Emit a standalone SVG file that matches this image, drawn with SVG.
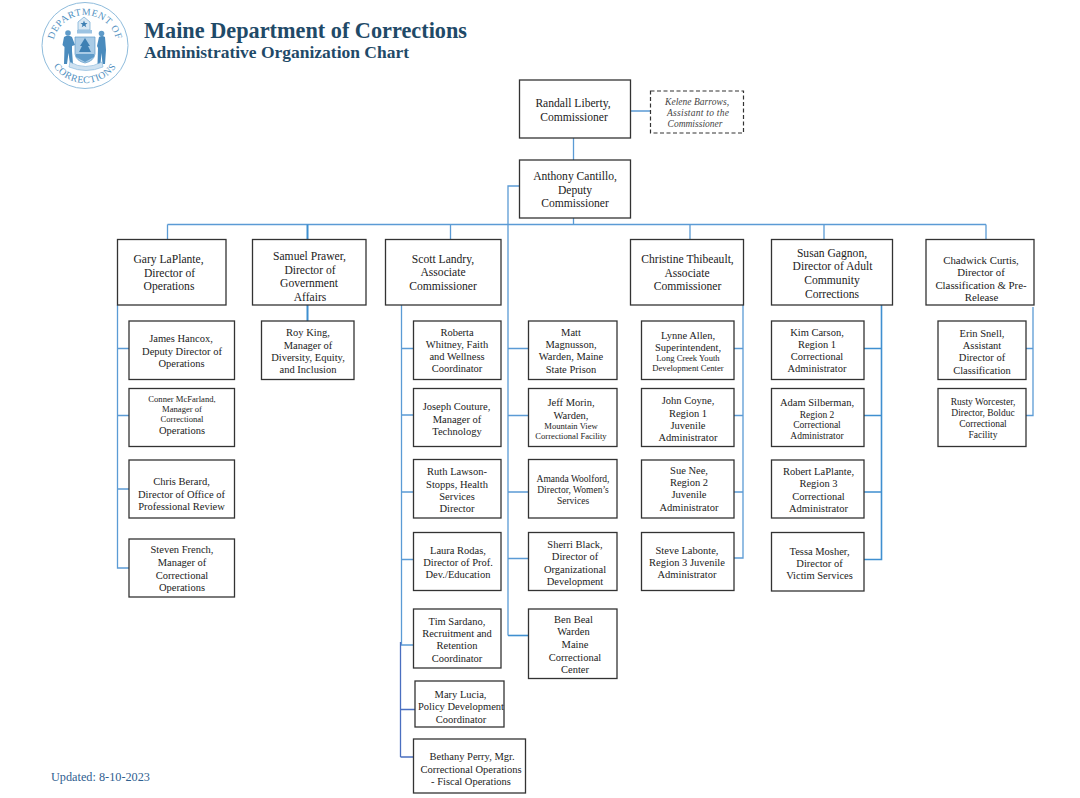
<svg xmlns="http://www.w3.org/2000/svg" width="1080" height="798" viewBox="0 0 1080 798">
<style>
text{font-family:"Liberation Serif","Times New Roman",serif;fill:#222;text-anchor:middle;font-size:10.5px}
.b{fill:#fff;stroke:#333;stroke-width:1.3}
.d{fill:#fff;stroke:#333;stroke-width:1.2;stroke-dasharray:4 2.5}
.l{font-size:11.6px}
.s{font-size:8.6px}
.r{font-size:9.5px}
.i{font-style:italic;font-size:9.5px;fill:#444}
.c path{fill:none;stroke:#5b9bd5;stroke-width:1.3}
.c .k{stroke:#3f8fd0;stroke-width:2}
.c .v{stroke:#4a6fc0}
.h{fill:#1f4a68;font-weight:bold;text-anchor:start}
.seal{fill:none;stroke:#8fbcdc}
.st{fill:#4f8fc0;font-size:9.8px;letter-spacing:.5px}
</style>
<defs>
<path id="sa" d="M54 55A32 32 0 1 1 116 55"/>
<path id="sb" d="M47 45A38 38 0 1 0 123 45"/>
</defs>
<g id="seal">
<circle class="seal" cx="85" cy="45.500" r="43" stroke-width="1"/>
<text class="st"><textPath href="#sa" startOffset="50%">DEPARTMENT OF</textPath></text>
<text class="st"><textPath href="#sb" startOffset="50%">CORRECTIONS</textPath></text>
<path d="M84 17l6 5v8h-12v-8z" fill="#dbe9f4" stroke="#7fb1d8" stroke-width=".8"/>
<path d="M84 20.500l1 2.500h2.500l-2 1.700.8 2.600-2.300-1.600-2.300 1.600.8-2.600-2-1.700h2.500z" fill="#3f80b3"/>
<path d="M77 30h15v3.500h-15z" fill="#9cc3e2"/>
<path d="M75 37h20v17q-1 7-10 9q-9-2-10-9z" fill="#a9cbe6" stroke="#5f9bc9" stroke-width=".7"/>
<path d="M85 38l5 8h-2l3 6h-12l3-6h-2z" fill="#3f80b3"/>
<path d="M76 54h18v3l-9 5-9-5z" fill="#5f9bc9"/>
<path d="M64 37q4-3 8 0l3 8-3 1v5l1 13h-3l-1.500-11-1.500 11h-3l.5-17-2-2z" fill="#4a8bbd"/>
<circle cx="68" cy="33" r="2.800" fill="#5f9bc9"/>
<path d="M99 37q3-2 6 0l1 13-1 14h-2.500l-1-11-1 11h-3l.500-16-1-2z" fill="#4a8bbd"/>
<circle cx="101.500" cy="33.500" r="2.800" fill="#5f9bc9"/>
<path d="M70 62q15 9 32 0l1 5q-17 7-34 0z" fill="#cfe2f1" stroke="#7fb1d8" stroke-width=".6"/>
</g>
<g id="title">
<text class="h" x="144" y="37.500" style="font-size:23px" textLength="323" lengthAdjust="spacingAndGlyphs">Maine Department of Corrections</text>
<text class="h" x="144" y="58" style="font-size:17px" textLength="265" lengthAdjust="spacingAndGlyphs">Administrative Organization Chart</text>
<text x="51" y="780.500" style="font-size:12px;fill:#2f6090;text-anchor:start" textLength="99" lengthAdjust="spacingAndGlyphs">Updated: 8-10-2023</text>
</g>
<g id="connectors" class="c">
<path d="M573.500 138V160M630 111H650M573.500 218V224.500M167.500 224.500H986M167.500 224.500V240M450.500 224.500V240M690 224.500V240M824 224.500V240M986 224.500V241"/>
<path class="k" d="M307.500 224.500V240M307.500 305V321"/>
<path d="M520 186H508V635.500M508 348.500H528.500M508 415.500H528.500M508 492H528.500M508 558.500H528.500"/>
<path class="k" d="M508 635.500H528.500" style="stroke-width:1.6"/>
<path d="M117.500 305V568H129M117.500 348.500H129M117.500 415.500H129M117.500 489H129"/>
<path d="M401.500 305V645H413.500M401.500 348.500H413.500M401.500 415H413.500M401.500 492H413.500M401.500 559.500H413.500"/>
<path class="v" d="M400.500 642V757M400.500 709.500H415M400.500 757H413.500"/>
<path d="M743 305V558H734M743 348.500H734M743 415.500H734M743 492H734"/>
<path class="k" d="M881.500 305V559.500H864M881.500 348.500H864M881.500 415.500H864M881.500 492H864" style="stroke-width:1.6"/>
<path d="M1033 307V415.500H1026M1033 348.500H1026"/>
</g>
<g id="n1"><rect class="b" x="519.500" y="80" width="111" height="58"/><text class="l"><tspan x="573" y="107">Randall Liberty,</tspan><tspan x="574" y="121">Commissioner</tspan></text></g>
<g id="n2"><rect class="d" x="650.500" y="91" width="93" height="42"/><text class="i"><tspan x="697" y="105" textLength="64">Kelene Barrows,</tspan><tspan x="698" y="116" textLength="62">Assistant to the</tspan><tspan x="695" y="127">Commissioner</tspan></text></g>
<g id="n3"><rect class="b" x="519.500" y="160" width="111" height="58"/><text class="l"><tspan x="575" y="180">Anthony Cantillo,</tspan><tspan x="575" y="193.500">Deputy</tspan><tspan x="575" y="207">Commissioner</tspan></text></g>
<g id="n4"><rect class="b" x="117.500" y="239.500" width="108.500" height="65.500"/><text class="l"><tspan x="168.500" y="263">Gary LaPlante,</tspan><tspan x="169.500" y="277">Director of</tspan><tspan x="169" y="290">Operations</tspan></text></g>
<g id="n5"><rect class="b" x="252.500" y="239.500" width="113.500" height="65.500"/><text class="l"><tspan x="309.500" y="260">Samuel Prawer,</tspan><tspan x="310" y="273.500">Director of</tspan><tspan x="309" y="287">Government</tspan><tspan x="310" y="301">Affairs</tspan></text></g>
<g id="n6"><rect class="b" x="385.500" y="239.500" width="115.500" height="65.500"/><text class="l"><tspan x="443" y="263">Scott Landry,</tspan><tspan x="443" y="276">Associate</tspan><tspan x="443" y="290">Commissioner</tspan></text></g>
<g id="n7"><rect class="b" x="630.500" y="239.500" width="113" height="65.500"/><text class="l"><tspan x="687.500" y="263">Christine Thibeault,</tspan><tspan x="687" y="277">Associate</tspan><tspan x="687.500" y="290">Commissioner</tspan></text></g>
<g id="n8"><rect class="b" x="771.500" y="239.500" width="121" height="65.500"/><text class="l"><tspan x="832" y="257">Susan Gagnon,</tspan><tspan x="832.500" y="270">Director of Adult</tspan><tspan x="832" y="284">Community</tspan><tspan x="832" y="297.500">Corrections</tspan></text></g>
<g id="n9"><rect class="b" x="926" y="239.500" width="108" height="65.500"/><text style="font-size:10.800px"><tspan x="981" y="264">Chadwick Curtis,</tspan><tspan x="981" y="276">Director of</tspan><tspan x="981" y="288.500">Classification &amp; Pre-</tspan><tspan x="981.500" y="301">Release</tspan></text></g>
<g id="n10"><rect class="b" x="129" y="321" width="105.500" height="58.500"/><text><tspan x="181" y="342">James Hancox,</tspan><tspan x="182" y="354.500">Deputy Director of</tspan><tspan x="181.500" y="367">Operations</tspan></text></g>
<g id="n11"><rect class="b" x="129" y="388.500" width="105.500" height="58"/><text class="s"><tspan x="182" y="402">Conner McFarland,</tspan><tspan x="182" y="411.500">Manager of</tspan><tspan x="182" y="421.500">Correctional</tspan><tspan x="182" y="433.500" style="font-size:10.500px">Operations</tspan></text></g>
<g id="n12"><rect class="b" x="129" y="460" width="105.500" height="58"/><text><tspan x="181.500" y="485">Chris Berard,</tspan><tspan x="181.500" y="497.500">Director of Office of</tspan><tspan x="181.500" y="510">Professional Review</tspan></text></g>
<g id="n13"><rect class="b" x="129" y="539" width="105.500" height="58"/><text><tspan x="182" y="553">Steven French,</tspan><tspan x="182" y="566">Manager of</tspan><tspan x="182" y="578.500">Correctional</tspan><tspan x="182" y="591">Operations</tspan></text></g>
<g id="n14"><rect class="b" x="261.500" y="321" width="92.500" height="58.500"/><text><tspan x="308" y="336">Roy King,</tspan><tspan x="308" y="348.500">Manager of</tspan><tspan x="308" y="361">Diversity, Equity,</tspan><tspan x="308" y="373">and Inclusion</tspan></text></g>
<g id="n15"><rect class="b" x="413.500" y="321" width="87.500" height="58.500"/><text><tspan x="457" y="336">Roberta</tspan><tspan x="457" y="348">Whitney, Faith</tspan><tspan x="457" y="360">and Wellness</tspan><tspan x="457" y="372">Coordinator</tspan></text></g>
<g id="n16"><rect class="b" x="413.500" y="388.500" width="87.500" height="58"/><text><tspan x="456.500" y="410">Joseph Couture,</tspan><tspan x="457" y="422.500">Manager of</tspan><tspan x="457" y="435">Technology</tspan></text></g>
<g id="n17"><rect class="b" x="413.500" y="459.500" width="87.500" height="58.500"/><text><tspan x="457" y="475">Ruth Lawson-</tspan><tspan x="457" y="487.500">Stopps, Health</tspan><tspan x="457" y="500">Services</tspan><tspan x="457" y="512">Director</tspan></text></g>
<g id="n18"><rect class="b" x="413.500" y="532.500" width="87.500" height="58"/><text><tspan x="458" y="554">Laura Rodas,</tspan><tspan x="458" y="566">Director of Prof.</tspan><tspan x="458" y="578">Dev./Education</tspan></text></g>
<g id="n19"><rect class="b" x="413.500" y="609" width="87.500" height="59"/><text><tspan x="457" y="625">Tim Sardano,</tspan><tspan x="457" y="637">Recruitment and</tspan><tspan x="457" y="649">Retention</tspan><tspan x="457" y="661.500">Coordinator</tspan></text></g>
<g id="n20"><rect class="b" x="415" y="681" width="89" height="46"/><text><tspan x="460.500" y="697.500">Mary Lucia,</tspan><tspan x="461" y="710">Policy Development</tspan><tspan x="461" y="723">Coordinator</tspan></text></g>
<g id="n21"><rect class="b" x="413.500" y="739" width="112" height="54"/><text><tspan x="472" y="760">Bethany Perry, Mgr.</tspan><tspan x="471" y="772.500">Correctional Operations</tspan><tspan x="471" y="785">- Fiscal Operations</tspan></text></g>
<g id="n22"><rect class="b" x="528.500" y="321" width="88.500" height="58.500"/><text><tspan x="571" y="335.500">Matt</tspan><tspan x="571" y="348">Magnusson,</tspan><tspan x="571" y="360">Warden, Maine</tspan><tspan x="571" y="372.500">State Prison</tspan></text></g>
<g id="n23"><rect class="b" x="528.500" y="388.500" width="88.500" height="58"/><text><tspan x="571" y="406">Jeff Morin,</tspan><tspan x="571" y="418.500">Warden,</tspan><tspan x="571" y="428.500" class="s">Mountain View</tspan><tspan x="571" y="438.500" class="s">Correctional Facility</tspan></text></g>
<g id="n24"><rect class="b" x="528.500" y="459.500" width="88.500" height="58.500"/><text class="r"><tspan x="573" y="481.500">Amanda Woolford,</tspan><tspan x="573" y="492.500">Director, Women’s</tspan><tspan x="573" y="503.500">Services</tspan></text></g>
<g id="n25"><rect class="b" x="528.500" y="532.500" width="88.500" height="58"/><text><tspan x="575" y="548">Sherri Black,</tspan><tspan x="575" y="560">Director of</tspan><tspan x="575" y="572.500">Organizational</tspan><tspan x="575" y="584.500">Development</tspan></text></g>
<g id="n26"><rect class="b" x="528.500" y="609" width="88.500" height="69.500"/><text><tspan x="573.500" y="622.500">Ben Beal</tspan><tspan x="573.500" y="635">Warden</tspan><tspan x="575" y="648">Maine</tspan><tspan x="575" y="660.500">Correctional</tspan><tspan x="575" y="673">Center</tspan></text></g>
<g id="n27"><rect class="b" x="641.500" y="321" width="92.500" height="58.500"/><text><tspan x="688" y="338.500">Lynne Allen,</tspan><tspan x="688" y="350.500">Superintendent,</tspan><tspan x="688" y="361" class="s">Long Creek Youth</tspan><tspan x="688" y="370.500" class="s">Development Center</tspan></text></g>
<g id="n28"><rect class="b" x="641.500" y="388.500" width="92.500" height="58"/><text><tspan x="688" y="404">John Coyne,</tspan><tspan x="688" y="416.500">Region 1</tspan><tspan x="688" y="428.500">Juvenile</tspan><tspan x="688" y="441">Administrator</tspan></text></g>
<g id="n29"><rect class="b" x="641.500" y="460" width="92.500" height="58"/><text><tspan x="689" y="474">Sue Nee,</tspan><tspan x="689" y="486">Region 2</tspan><tspan x="689" y="498">Juvenile</tspan><tspan x="689" y="510.500">Administrator</tspan></text></g>
<g id="n30"><rect class="b" x="641.500" y="532.500" width="92.500" height="58"/><text><tspan x="687" y="554">Steve Labonte,</tspan><tspan x="687" y="566">Region 3 Juvenile</tspan><tspan x="687" y="578">Administrator</tspan></text></g>
<g id="n31"><rect class="b" x="771.500" y="321" width="92.500" height="58.500"/><text><tspan x="817" y="335.500">Kim Carson,</tspan><tspan x="817" y="348">Region 1</tspan><tspan x="817" y="360">Correctional</tspan><tspan x="817" y="372">Administrator</tspan></text></g>
<g id="n32"><rect class="b" x="771.500" y="388.500" width="92.500" height="58"/><text><tspan x="817" y="406">Adam Silberman,</tspan><tspan x="817" y="417.500" class="r">Region 2</tspan><tspan x="817" y="428" class="r">Correctional</tspan><tspan x="817" y="439" class="r">Administrator</tspan></text></g>
<g id="n33"><rect class="b" x="771.500" y="460" width="92.500" height="58"/><text><tspan x="818.500" y="475">Robert LaPlante,</tspan><tspan x="818.500" y="487">Region 3</tspan><tspan x="818.500" y="499.500">Correctional</tspan><tspan x="818.500" y="512">Administrator</tspan></text></g>
<g id="n34"><rect class="b" x="771.500" y="532.500" width="92.500" height="58.500"/><text><tspan x="819.500" y="555">Tessa Mosher,</tspan><tspan x="819.500" y="567">Director of</tspan><tspan x="819.500" y="579">Victim Services</tspan></text></g>
<g id="n35"><rect class="b" x="938" y="321" width="88" height="58.500"/><text><tspan x="982" y="336.500">Erin Snell,</tspan><tspan x="982" y="349">Assistant</tspan><tspan x="982" y="361">Director of</tspan><tspan x="982" y="373.500">Classification</tspan></text></g>
<g id="n36"><rect class="b" x="938" y="388.500" width="88" height="58"/><text class="r"><tspan x="983" y="405">Rusty Worcester,</tspan><tspan x="983" y="416">Director, Bolduc</tspan><tspan x="983" y="427">Correctional</tspan><tspan x="983" y="438">Facility</tspan></text></g>
</svg>
